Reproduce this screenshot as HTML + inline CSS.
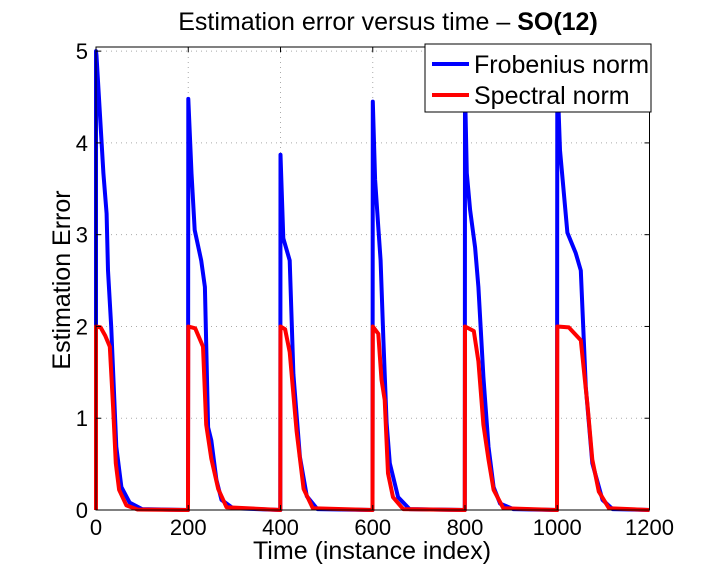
<!DOCTYPE html>
<html><head><meta charset="utf-8"><style>
body{margin:0;background:#fff;}
svg text{font-family:"Liberation Sans",sans-serif;fill:#000;}
</style></head><body>
<svg id="chart" width="720" height="575" xmlns="http://www.w3.org/2000/svg">
<g id="grid"></g>
<g id="series"></g>
<rect x="96" y="47" width="553.5" height="463" fill="none" stroke="#000" stroke-width="1"/>
<g id="ticks"></g>
<text x="388" y="30" font-size="25" text-anchor="middle">Estimation error versus time – <tspan font-weight="bold">SO(12)</tspan></text>
<text x="372" y="559" font-size="25" text-anchor="middle">Time (instance index)</text>
<text transform="translate(70,280) rotate(-90)" font-size="25" text-anchor="middle">Estimation Error</text>
<g>
<rect x="425" y="44" width="226" height="68" fill="#fff" stroke="#000" stroke-width="1"/>
<line x1="432" y1="64" x2="469" y2="64" stroke="#0000ff" stroke-width="4"/>
<text x="474" y="73" font-size="25">Frobenius norm</text>
<line x1="432" y1="95" x2="469" y2="95" stroke="#ff0000" stroke-width="4"/>
<text x="474" y="104" font-size="25">Spectral norm</text>
</g>
</svg>
<script>
const xTicks=[0,200,400,600,800,1000,1200];
const yTicks=[0,1,2,3,4,5];
const blueT=[0,0,1,16,23,26,33,44,55,73,100,199.5,200,207,214,228,236,243,250,261,272,297,399.5,400,406,420,428,442,457,480,599.5,600,605,612,617,623,630,637,655,680,799.5,800,804,811,822,829,840,851,862,876,905,999.5,1000,1006,1022,1040,1051,1062,1076,1098,1120,1200];
const blueV=[0,5.0,4.95,3.67,3.23,2.61,2.0,0.69,0.25,0.08,0.01,0,4.48,3.67,3.05,2.72,2.43,0.9,0.76,0.33,0.11,0.02,0,3.87,2.96,2.72,1.48,0.58,0.15,0.01,0,4.45,3.6,3.08,2.72,1.85,0.95,0.51,0.14,0.01,0,4.6,3.67,3.27,2.86,2.43,1.45,0.69,0.25,0.07,0.01,0,4.75,3.92,3.02,2.8,2.61,1.34,0.51,0.11,0.01,0];
const redT=[0,0,10,20,30,37,43,50,66,90,199.5,200,215,232,239,250,265,283,399.5,400,410,420,435,450,470,599.5,600,612,619,626,633,644,666,799.5,800,819,829,840,851,862,883,999.5,1000,1025,1051,1066,1076,1090,1112,1200];
const redV=[0,2.0,1.99,1.9,1.78,1.12,0.51,0.22,0.05,0.005,0,2.0,1.98,1.78,0.93,0.56,0.23,0.03,0,2.0,1.97,1.72,0.86,0.23,0.02,0,2.0,1.92,1.42,1.2,0.4,0.14,0.01,0,2.0,1.95,1.62,0.93,0.55,0.22,0.02,0,2.0,1.99,1.85,1.12,0.55,0.2,0.02,0];
const X0=96,X1=649.5,Y0=510,YMAX=5.045,PH=463;
const xs=t=>X0+t/1200*(X1-X0);
const ys=v=>Y0-v/YMAX*PH;
const NS='http://www.w3.org/2000/svg';
function mk(tag,parent,attrs){const e=document.createElementNS(NS,tag);for(const k in attrs)e.setAttribute(k,attrs[k]);document.getElementById(parent).appendChild(e);return e;}
xTicks.forEach(t=>{
 if(t>0&&t<1200){const g=mk('line','grid',{x1:xs(t),x2:xs(t),y1:47,y2:510,stroke:'#aaa','stroke-width':1,'stroke-dasharray':'1,4'});
 
 }
 const a=mk('line','ticks',{x1:xs(t),x2:xs(t),y1:510,y2:505,stroke:'#000'});
 
 
 const b=mk('line','ticks',{x1:xs(t),x2:xs(t),y1:47,y2:52,stroke:'#000'});
 
 
 const l=mk('text','ticks',{x:xs(t),y:535,'font-size':22,'text-anchor':'middle'});l.textContent=t;
 
 
});
yTicks.forEach(v=>{
 if(v>0){const g=mk('line','grid',{x1:96,x2:649.5,y1:ys(v),y2:ys(v),stroke:'#aaa','stroke-width':1,'stroke-dasharray':'1,4'});
 
 }
 const a=mk('line','ticks',{x1:96,x2:101,y1:ys(v),y2:ys(v),stroke:'#000'});
 
 
 const b=mk('line','ticks',{x1:644.5,x2:649.5,y1:ys(v),y2:ys(v),stroke:'#000'});
 
 
 const l=mk('text','ticks',{x:88,y:ys(v)+8,'font-size':22,'text-anchor':'end'});l.textContent=v;
 
 
});
function path(T,V){return T.map((t,i)=>(i?'L':'M')+xs(t).toFixed(1)+','+ys(V[i]).toFixed(1)).join('');}
const pb=mk('path','series',{d:path(blueT,blueV),fill:'none',stroke:'#0000ff','stroke-width':4,'stroke-linejoin':'round'});


const pr=mk('path','series',{d:path(redT,redV),fill:'none',stroke:'#ff0000','stroke-width':4,'stroke-linejoin':'round'});


</script>
</body></html>
